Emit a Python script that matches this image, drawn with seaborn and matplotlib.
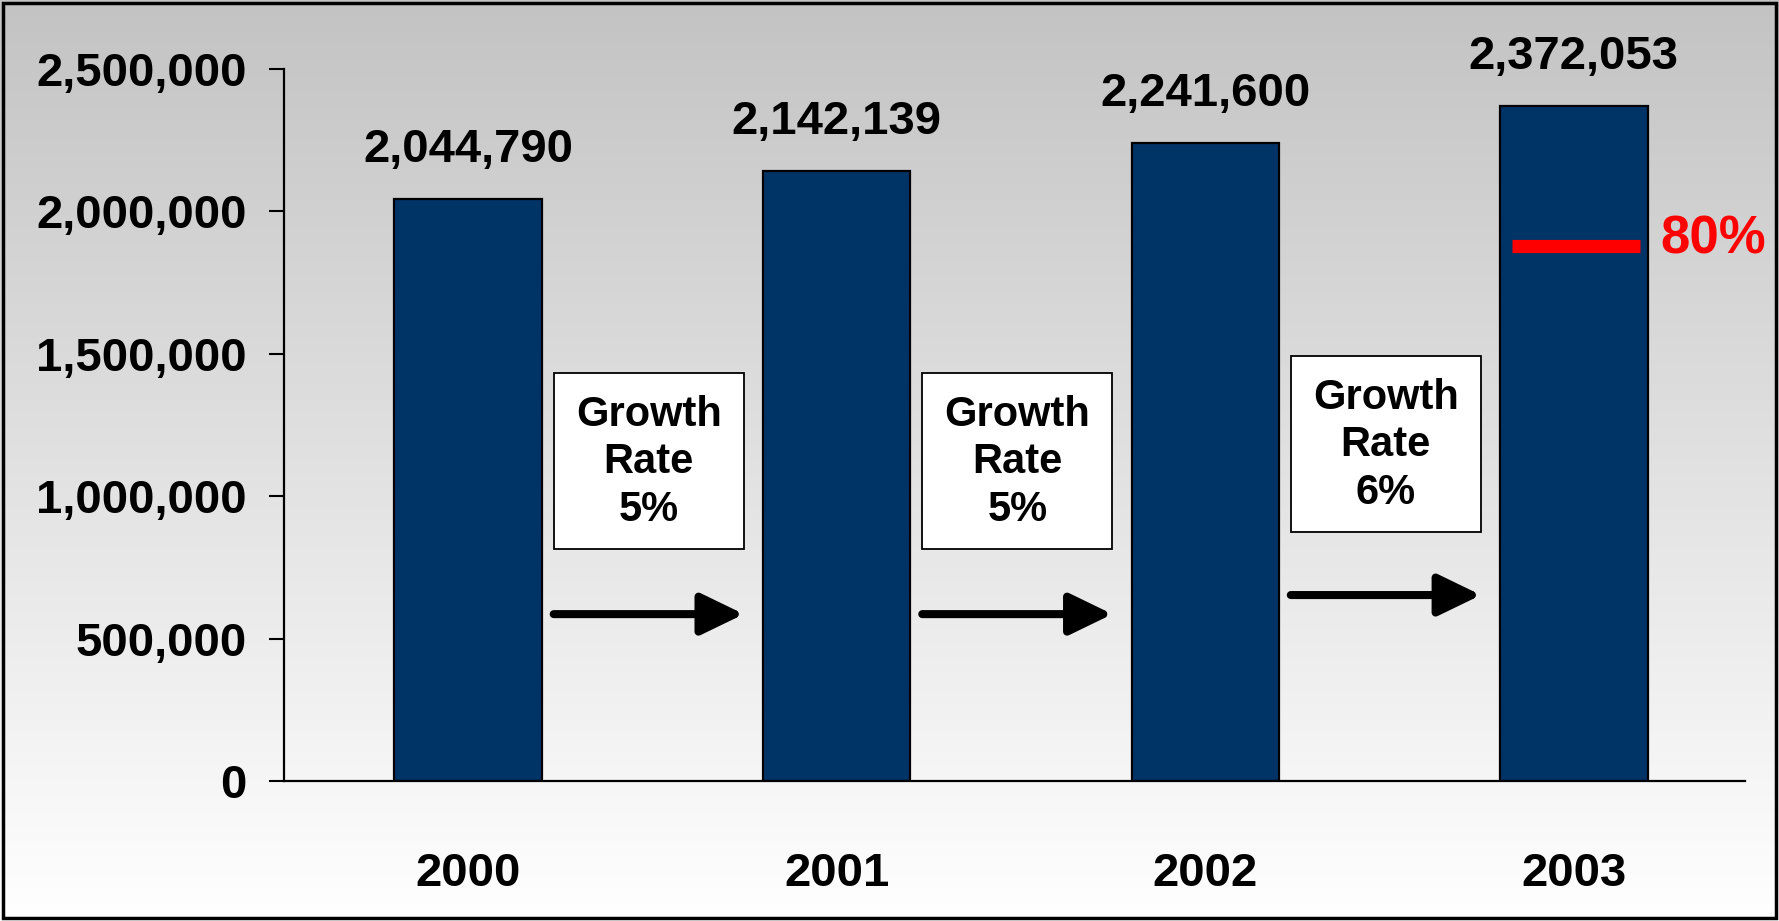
import numpy as np
import pandas as pd
import matplotlib
matplotlib.use('Agg')
import matplotlib.pyplot as plt
from matplotlib.patches import Rectangle
import seaborn as sns

# data
years = ['2000', '2001', '2002', '2003']
values = [2044790, 2142139, 2241600, 2372053]
growth_labels = ['5%', '5%', '6%']
target_level = 1880000   # red marker inside the 2003 bar
target_label = '80%'
y_ticks = [0, 500000, 1000000, 1500000, 2000000, 2500000]

sns.set_style('white')
plt.rcParams['font.family'] = ['Liberation Sans', 'DejaVu Sans']
plt.rcParams['font.weight'] = 'bold'
plt.rcParams['text.color'] = 'black'

df = pd.DataFrame({'year': years, 'value': values})

fig = plt.figure(figsize=(17.79, 9.21), dpi=100)

# grey-to-white gradient background
bg = fig.add_axes([0, 0, 1, 1])
grad = np.linspace(0, 1, 256).reshape(-1, 1)
bg.imshow(grad, aspect='auto', cmap=matplotlib.colors.LinearSegmentedColormap.from_list(
    'bg', ['#c3c3c3', '#ffffff']), extent=[0, 1, 0, 1], origin='upper')
bg.set_axis_off()
bg.add_patch(Rectangle((0.0015, 0.003), 0.997, 0.994, transform=bg.transAxes,
                       fill=False, edgecolor='black', lw=2.5))

ax = fig.add_axes([0.1596, 0.152, 0.8214, 0.773])
ax.set_facecolor('none')
sns.barplot(data=df, x='year', y='value', color='#003366', saturation=1,
            edgecolor='black', linewidth=1.6, width=0.4, ax=ax)

ax.set_xlim(-0.5, 3.465)
ax.set_ylim(0, 2500000)
ax.set_yticks(y_ticks)
ax.set_yticklabels([f'{t:,}' for t in y_ticks])
ax.set_xlabel('')
ax.set_ylabel('')
for s in ['top', 'right']:
    ax.spines[s].set_visible(False)
for s in ['left', 'bottom']:
    ax.spines[s].set_linewidth(1.6)
    ax.spines[s].set_color('black')
ax.tick_params(axis='y', length=11, width=1.5, pad=16, labelsize=34, colors='black', left=True)
ax.tick_params(axis='x', length=0, pad=51, labelsize=34, colors='black')
for lab in ax.get_xticklabels() + ax.get_yticklabels():
    lab.set_fontweight('bold')

# value labels above bars
for i, v in enumerate(values):
    ax.annotate(f'{v:,}', xy=(i, v), xytext=(0, 35), textcoords='offset points',
                ha='center', va='center', fontsize=34, fontweight='bold', color='black')

# growth rate boxes and arrows between bars
box_half = 0.258
for i, g in enumerate(growth_labels):
    xc = i + 0.49
    shift = 60000 if i == 2 else 0
    y0, y1 = 815000 + shift, 1433000 + shift
    ax.add_patch(Rectangle((xc - box_half, y0), 2 * box_half, y1 - y0,
                           facecolor='white', edgecolor='black', lw=1.3, zorder=3))
    ax.text(xc, (y0 + y1) / 2 - 5000, f'Growth\nRate\n{g}', ha='center', va='center',
            fontsize=30, fontweight='bold', linespacing=1.25, color='black', zorder=4)
    ya = 586000 + (67000 if i == 2 else 0)
    ax.annotate('', xy=(xc + box_half, ya), xytext=(xc - box_half, ya),
                arrowprops=dict(arrowstyle='-|>,head_length=1.3,head_width=0.63',
                                mutation_scale=20, lw=5.8, color='black',
                                shrinkA=0, shrinkB=0), zorder=4)

# red 80% marker on the last bar
ax.plot([3 - 0.167, 3 + 0.18], [target_level, target_level], color='red', lw=9.5,
        solid_capstyle='butt', zorder=5)
ax.text(3.235, target_level + 20000, target_label, color='red', fontsize=38,
        fontweight='bold', ha='left', va='center')

fig.savefig('out.png', dpi=100)
